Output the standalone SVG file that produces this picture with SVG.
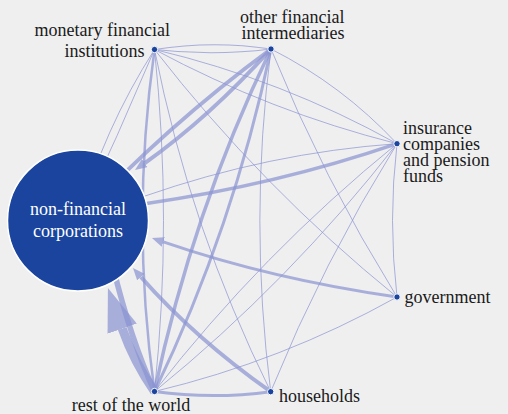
<svg xmlns="http://www.w3.org/2000/svg" width="508" height="414" viewBox="0 0 508 414">
<style>
.e{fill:none;stroke:#8a93d2;stroke-opacity:.7;stroke-linecap:butt}
.lbl{font-family:"Liberation Serif","Times New Roman",serif;font-size:18px;fill:#1a1a1a}
.in{font-family:"Liberation Serif","Times New Roman",serif;font-size:18px;fill:#ffffff;text-anchor:middle}
.dot{fill:#1a449e;stroke:#ffffff;stroke-width:1}
</style>
<defs>
<marker id="ah" markerUnits="userSpaceOnUse" viewBox="0 0 12 10" markerWidth="12" markerHeight="10" refX="0" refY="5" orient="auto"><path d="M0,0 L12,5 L0,10 z" fill="#8a93d2" fill-opacity=".7"/></marker>
<marker id="ahL" markerUnits="userSpaceOnUse" viewBox="0 0 43 31" markerWidth="43" markerHeight="31" refX="0" refY="15.5" orient="auto"><path d="M0,0 L43,15.5 L0,31 z" fill="#8a93d2" fill-opacity=".7"/></marker>
</defs>
<rect width="508" height="414" fill="#efefef"/>
<g id="connectors">
<path class="e" stroke-width="1.2" d="M154.5,49.5 Q212.75,40.25 271,49"/>
<path class="e" stroke-width="1.2" d="M154.5,49.5 Q212.75,56.25 271,49"/>
<path class="e" stroke-width="1" d="M154.5,49.5 Q282.3,79.8 397,143.7"/>
<path class="e" stroke-width="1" d="M154.5,49.5 Q270,111.5 397,143.7"/>
<path class="e" stroke-width="1" d="M154.5,49.5 Q261.5,187.3 397,297"/>
<path class="e" stroke-width="1" d="M154.5,49.5 Q189.9,228.3 270.7,391.7"/>
<path class="e" stroke-width="2.5" d="M154.5,49.5 Q130.5,220.5 154.5,391.5"/>
<path class="e" stroke-width="1" d="M154.5,49.5 Q172.5,220.5 154.5,391.5"/>
<path class="e" stroke-width="1" d="M271,49 Q342.4,85.2 397,143.7"/>
<path class="e" stroke-width="1" d="M271,49 Q323.3,178.4 397,297"/>
<path class="e" stroke-width="1" d="M271,49 Q248.85,220.35 270.7,391.7"/>
<path class="e" stroke-width="3.5" d="M271,49 Q191.9,213.2 154.5,391.5"/>
<path class="e" stroke-width="3" d="M271,49 Q233.6,227.3 154.5,391.5"/>
<path class="e" stroke-width="1" d="M397,143.7 Q388,220.35 397,297"/>
<path class="e" stroke-width="1" d="M397,143.7 Q323.2,262.3 270.7,391.7"/>
<path class="e" stroke-width="1" d="M397,143.7 Q261.5,253.6 154.5,391.5"/>
<path class="e" stroke-width="1" d="M397,143.7 Q290,281.6 154.5,391.5"/>
<path class="e" stroke-width="1" d="M397,297 Q282.3,361 154.5,391.5"/>
<path class="e" stroke-width="3" d="M270.7,391.7 Q212.6,399.6 154.5,391.5"/>
<path class="e" stroke-width="1" d="M154.5,49.5 Q103.5,129.3 78,220.5"/>
<path class="e" stroke-width="1" d="M154.5,49.5 Q118.1,135.8 78,220.5"/>
<path class="e" stroke-width="4" d="M271,49 Q166.5,125.8 78,220.5"/>
<path class="e" stroke-width="4" d="M271,49 Q209.7,117 144.8,163.1" marker-end="url(#ah)"/>
<path class="e" stroke-width="3.5" d="M397,143.7 Q276.3,185 145,203.7"/>
<path class="e" stroke-width="1" d="M397,143.7 Q269.1,152.7 144.2,196.3"/>
<path class="e" stroke-width="3" d="M397,297 Q271.7,279.2 163.3,241.9" marker-end="url(#ah)"/>
<path class="e" stroke-width="4" d="M270.7,391.7 Q194.6,337.9 140.9,277" marker-end="url(#ah)"/>
<path class="e" stroke-width="9" d="M154.5,391.5 Q133.8,361.6 122.2,328.6" marker-end="url(#ahL)"/>
<path class="e" stroke-width="5.5" d="M113,267 Q131,340 154.5,391.5"/>
</g>
<g id="nfc">
<circle cx="78" cy="220.5" r="70.5" fill="#1a449e" stroke="#ffffff" stroke-width="1.5"/>
<text class="in" x="78" y="215">non-financial</text>
<text class="in" x="78" y="237">corporations</text>
</g>
<g id="mfi">
<circle class="dot" cx="154.5" cy="49.5" r="3.2"/>
<text class="lbl" x="170" y="36" text-anchor="end">monetary financial</text>
<text class="lbl" x="144.5" y="56.5" text-anchor="end">institutions</text>
</g>
<g id="ofi">
<circle class="dot" cx="271" cy="49" r="3.2"/>
<text class="lbl" x="344.5" y="23" text-anchor="end">other financial</text>
<text class="lbl" x="344.5" y="39" text-anchor="end">intermediaries</text>
</g>
<g id="icpf">
<circle class="dot" cx="397" cy="143.7" r="3.2"/>
<text class="lbl" x="403" y="134">insurance</text>
<text class="lbl" x="403" y="150">companies</text>
<text class="lbl" x="403" y="166">and pension</text>
<text class="lbl" x="403" y="182">funds</text>
</g>
<g id="government">
<circle class="dot" cx="397" cy="297" r="3.2"/>
<text class="lbl" x="404.5" y="302.5">government</text>
</g>
<g id="households">
<circle class="dot" cx="270.7" cy="391.7" r="3.2"/>
<text class="lbl" x="279" y="402">households</text>
</g>
<g id="row">
<circle class="dot" cx="154.5" cy="391.5" r="3.2"/>
<text class="lbl" x="131" y="410.5" text-anchor="middle">rest of the world</text>
</g>
</svg>
